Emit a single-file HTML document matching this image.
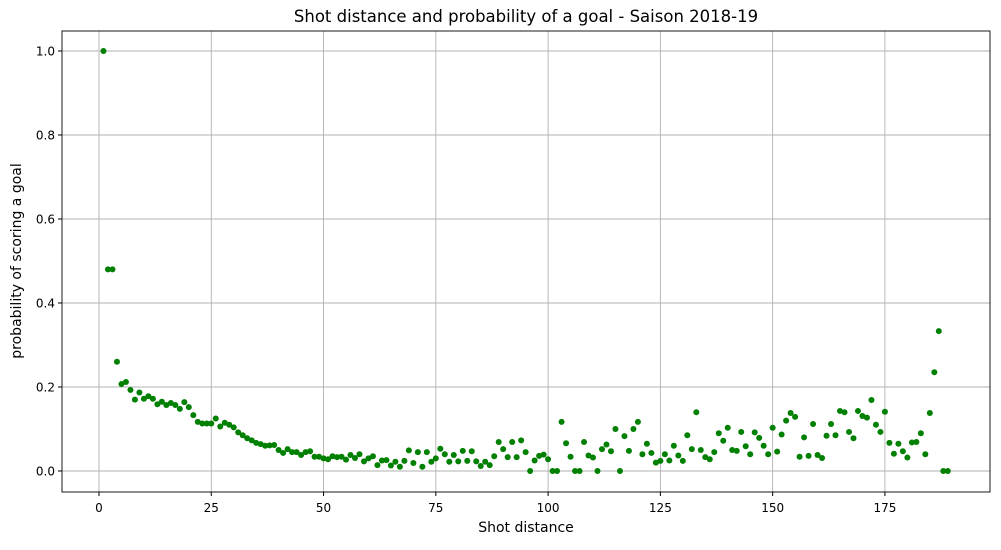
<!DOCTYPE html>
<html><head><meta charset="utf-8"><style>
body{margin:0;background:#fff;font-family:"Liberation Sans","DejaVu Sans",sans-serif}
svg text{font-family:"DejaVu Sans","Liberation Sans",sans-serif}
</style></head><body>
<svg id="chart" width="1001" height="545" xmlns="http://www.w3.org/2000/svg">
<rect width="1001" height="545" fill="#fff"/>
<text x="526" y="22" text-anchor="middle" font-size="16.5">Shot distance and probability of a goal - Saison 2018-19</text>
<g id="grid"></g><g id="pts"></g><g id="axes"></g>
<rect x="62" y="31" width="928" height="461" fill="none" stroke="#000" stroke-width="0.9"/>
<text x="526" y="532" text-anchor="middle" font-size="14">Shot distance</text>
<text transform="translate(21,261) rotate(-90)" text-anchor="middle" font-size="14">probability of scoring a goal</text>
</svg>
<script>
const probs=[1.0,0.48,0.48,0.26,0.207,0.212,0.193,0.17,0.187,0.172,0.178,0.172,0.159,0.165,0.157,0.162,0.157,0.148,0.164,0.152,0.133,0.117,0.113,0.113,0.113,0.125,0.106,0.115,0.11,0.104,0.092,0.085,0.078,0.073,0.067,0.064,0.06,0.061,0.062,0.05,0.043,0.052,0.045,0.045,0.038,0.045,0.047,0.034,0.034,0.03,0.028,0.035,0.033,0.034,0.027,0.038,0.031,0.04,0.023,0.03,0.035,0.014,0.025,0.026,0.013,0.022,0.01,0.024,0.049,0.019,0.045,0.01,0.045,0.022,0.03,0.053,0.04,0.022,0.038,0.023,0.048,0.024,0.047,0.023,0.012,0.022,0.014,0.035,0.069,0.052,0.033,0.069,0.033,0.073,0.045,0,0.025,0.036,0.039,0.028,0,0,0.117,0.066,0.034,0,0,0.069,0.037,0.032,0,0.052,0.063,0.047,0.1,0,0.083,0.048,0.1,0.117,0.04,0.065,0.043,0.02,0.024,0.04,0.025,0.06,0.037,0.024,0.085,0.052,0.14,0.05,0.033,0.028,0.045,0.09,0.072,0.103,0.05,0.048,0.093,0.059,0.04,0.092,0.079,0.06,0.04,0.103,0.046,0.087,0.12,0.138,0.129,0.034,0.08,0.036,0.112,0.038,0.031,0.084,0.112,0.085,0.143,0.14,0.093,0.078,0.143,0.131,0.127,0.169,0.11,0.093,0.141,0.067,0.041,0.065,0.047,0.032,0.068,0.069,0.09,0.04,0.138,0.235,0.333,0,0];
const distances=probs.map((_,i)=>i+1);
const xTicks=[0,25,50,75,100,125,150,175];
const yTicks=[0,0.2,0.4,0.6,0.8,1.0];
const NS="http://www.w3.org/2000/svg";
const X=v=>99+v*4.491, Y=v=>471-v*420;
function mk(t,a,p){const e=document.createElementNS(NS,t);for(const k in a)e.setAttribute(k,a[k]);p.appendChild(e);return e;}
const grid=document.getElementById('grid'),axes=document.getElementById('axes'),pts=document.getElementById('pts');
xTicks.forEach(t=>{const x=X(t);
 const g=mk('line',{x1:x,x2:x,y1:31,y2:492,stroke:'#b0b0b0','stroke-width':0.9},grid);
 
 
 mk('line',{x1:x,x2:x,y1:492,y2:496,stroke:'#000'},axes);
 const l=mk('text',{x:x,y:512,'text-anchor':'middle','font-size':12},axes);l.textContent=t;
 
 });
yTicks.forEach(t=>{const y=Y(t);
 const g=mk('line',{x1:62,x2:990,y1:y,y2:y,stroke:'#b0b0b0','stroke-width':0.9},grid);
 
 
 mk('line',{x1:58,x2:62,y1:y,y2:y,stroke:'#000'},axes);
 const l=mk('text',{x:55,y:y+4.5,'text-anchor':'end','font-size':12},axes);l.textContent=t.toFixed(1);
 
 });
probs.forEach((p,i)=>{const c=mk('circle',{cx:X(distances[i]),cy:Y(p),r:3,fill:'#008000'},pts);
 
 });
</script>
</body></html>
